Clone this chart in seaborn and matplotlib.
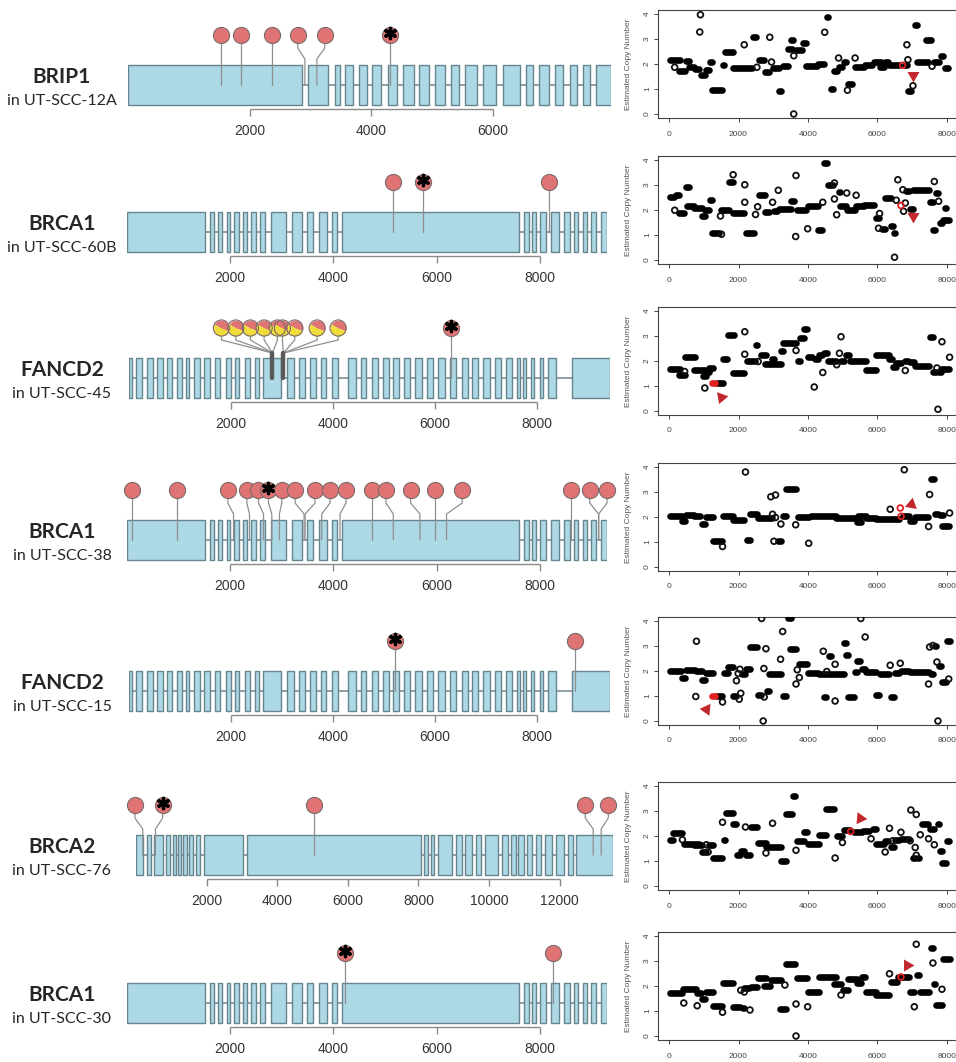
import numpy as np
import matplotlib.pyplot as plt
import seaborn as sns
from matplotlib.path import Path

# ── Style ──────────────────────────────────────────────────
sns.set_style('white')
plt.rcParams['font.family'] = ['Liberation Sans', 'DejaVu Sans']

W, H = 956, 1062
HEAD = '#E07474'
HEAD_EDGE = '#7d6a6a'
YELLOW = '#F0DC3A'
EXON_FILL = '#ADD8E6'
EXON_EDGE = '#66858f'
ARROW_RED = '#C1272D'

# ── Exon structures (start, end in bp) ─────────────────────
BRIP1_EXONS = [(0, 2863), (2961, 3288), (3400, 3485), (3577, 3708), (3793, 3924),
               (4022, 4165), (4270, 4427), (4532, 4708), (4793, 4950), (5048, 5212),
               (5310, 5447), (5539, 5741), (5840, 6049), (6167, 6455), (6546, 6657),
               (6769, 6932), (7017, 7161), (7272, 7390), (7488, 7606), (7704, 7946)]
BRCA1_EXONS = [(0, 1503), (1600, 1677), (1761, 1838), (1935, 1999), (2083, 2161),
               (2245, 2322), (2406, 2496), (2580, 2677), (2786, 3083), (3193, 3386),
               (3483, 3612), (3715, 3883), (3980, 4077), (4173, 7598), (7688, 7785),
               (7856, 7934), (8011, 8127), (8224, 8372), (8462, 8579), (8656, 8740),
               (8837, 8914), (8998, 9095), (9178, 9301)]
FANCD2_EXONS = [(0, 65), (144, 262), (353, 471), (549, 667), (746, 850), (942, 1033),
                (1112, 1177), (1275, 1386), (1465, 1583), (1681, 1792), (1897, 1995),
                (2073, 2158), (2269, 2367), (2466, 2551), (2629, 2989), (3100, 3231),
                (3335, 3447), (3545, 3662), (3761, 3872), (3983, 4101), (4297, 4460),
                (4545, 4656), (4755, 4885), (4983, 5101), (5180, 5297), (5389, 5507),
                (5605, 5736), (5847, 5964), (6063, 6193), (6291, 6409), (6520, 6638),
                (6730, 6847), (6945, 7076), (7174, 7292), (7390, 7501), (7599, 7665),
                (7717, 7783), (7874, 7946), (8057, 8123), (8221, 8371), (8679, 9431)]
BRCA2_EXONS = [(0, 192), (304, 417), (507, 755), (845, 958), (1037, 1127), (1184, 1262),
               (1341, 1431), (1510, 1623), (1702, 1803), (1916, 3032), (3145, 8058),
               (8171, 8272), (8351, 8441), (8543, 8948), (9061, 9230), (9331, 9511),
               (9624, 9782), (9894, 10244), (10379, 10526), (10627, 10751), (10830, 10976),
               (11077, 11224), (11336, 11483), (11596, 11776), (11889, 12114),
               (12227, 12385), (12475, 13510)]

# ── Mutations: lollipop head position, stem position (bp) ──
MUT_12A_HEAD = [1537, 1864, 2361, 2793, 3237, 4303]
MUT_12A_POS = [1537, 1864, 2361, 2910, 3107, 4303]
MUT_12A_STAR = [5]

MUT_60B_HEAD = [5147, 5741, 8172]
MUT_60B_POS = [5147, 5741, 8172]
MUT_60B_STAR = [1]

MUT_45_HEAD = [6311]
MUT_45_POS = [6311]
MUT_45_STAR = [0]
PIE_45_HEAD = [1812, 2093, 2381, 2649, 2910, 3008, 3250, 3689, 4101]
PIE_45_POS = [2812, 2812, 2812, 2812, 2812, 3028, 3028, 3028, 3028]

MUT_38_HEAD = [97, 968, 1954, 2322, 2548, 2741, 2999, 3257, 3644, 3935, 4244,
               4741, 5018, 5495, 5966, 6495, 8611, 8966, 9301]
MUT_38_POS = [97, 968, 2064, 2374, 2645, 2806, 2954, 3431, 3451, 3773, 4128,
              4741, 5160, 5676, 5966, 6192, 8611, 9140, 9140]
MUT_38_STAR = [5]

MUT_15_HEAD = [5206, 8747]
MUT_15_POS = [5206, 8747]
MUT_15_STAR = [0]

MUT_76_HEAD = [-30, 755, 5038, 12724, 13377]
MUT_76_POS = [192, 552, 5038, 12949, 13175]
MUT_76_STAR = [1]

MUT_30_HEAD = [4230, 8257]
MUT_30_POS = [4230, 8257]
MUT_30_STAR = [0]

# ── Copy number: segments (start, end, cn) and single points ──
CN_12A_SEG = [(0, 360, 2.17), (260, 480, 1.72), (450, 615, 2.13), (550, 740, 1.90), (710, 900, 1.81),
              (885, 1060, 1.55), (1030, 1170, 1.77), (1145, 1270, 2.08), (1200, 1560, 0.95),
              (1510, 1605, 1.97), (1575, 1865, 2.47), (1800, 2420, 1.84), (2375, 2540, 3.07),
              (2565, 2760, 2.15), (2730, 2905, 1.68), (2970, 3190, 1.84), (3145, 3240, 0.91),
              (3240, 3460, 1.93), (3385, 3560, 2.60), (3480, 3600, 2.97), (3625, 3865, 2.57),
              (3815, 3960, 2.84), (3915, 4300, 1.91), (4250, 4490, 2.01), (4520, 4605, 3.87),
              (4635, 4750, 1.00), (4730, 4875, 1.73), (4875, 5000, 1.87), (5020, 5135, 2.10),
              (5135, 5310, 1.20), (5335, 5645, 1.87), (5615, 5885, 1.95), (5865, 6125, 2.10),
              (6030, 6220, 1.88), (6175, 6320, 2.10), (6290, 6655, 1.95), (6750, 6875, 1.95),
              (6845, 6990, 0.93), (7060, 7180, 3.57), (7115, 7470, 2.10), (7375, 7570, 2.97),
              (7595, 7810, 2.07), (7790, 7905, 2.31), (7905, 8050, 1.84)]
CN_12A_PTS = [(163, 1.87), (904, 3.97), (885, 3.28), (2165, 2.77), (2530, 1.87), (2900, 3.07),
              (2950, 2.08), (3590, 2.33), (3590, 0.0), (4480, 3.27), (4880, 2.24), (5135, 0.95),
              (5355, 2.24), (6846, 2.77), (6875, 2.17), (7020, 1.13), (7570, 1.91)]
CN_12A_RED = [(6720, 1.95)]
CN_12A_RED_SEG = []
CN_12A_ARROW = (7020, 1.57, 180)

CN_60B_SEG = [(0, 165, 2.51), (165, 310, 2.62), (260, 450, 1.89), (450, 615, 2.94), (500, 740, 2.15),
              (690, 980, 2.09), (905, 1060, 1.76), (1000, 1190, 1.99), (1155, 1270, 2.42),
              (1200, 1480, 1.10), (1480, 1770, 2.02), (1700, 1865, 3.12), (1800, 2180, 1.89),
              (2180, 2490, 1.10), (2550, 2790, 2.59), (2730, 2905, 1.91), (3000, 3145, 1.98),
              (3145, 3530, 2.06), (3480, 3625, 2.35), (3655, 3960, 2.02), (3960, 4325, 2.18),
              (4270, 4425, 1.20), (4440, 4585, 3.87), (4540, 4750, 3.01), (4855, 4940, 2.71),
              (4905, 5135, 2.18), (5095, 5385, 1.99), (5355, 5645, 2.15), (5595, 5930, 2.22),
              (5930, 6060, 1.69), (6095, 6250, 1.25), (6175, 6415, 2.48), (6365, 6480, 1.36),
              (6440, 6540, 1.10), (6800, 6940, 2.75), (6895, 7060, 2.05), (6990, 7520, 2.81),
              (7470, 7635, 2.34), (7570, 7690, 1.20), (7665, 7760, 2.68), (7760, 7885, 1.47),
              (7855, 7980, 1.62), (7905, 8000, 2.09), (7950, 8095, 1.62)]
CN_60B_PTS = [(165, 1.99), (1510, 1.03), (1480, 1.76), (1845, 3.41), (2180, 3.01), (2180, 2.31),
              (2490, 1.82), (2550, 2.13), (2980, 2.31), (3145, 2.79), (3645, 0.94), (3655, 3.38),
              (3990, 1.25), (4425, 2.31), (4760, 3.08), (4760, 2.44), (4825, 1.81), (5115, 2.68),
              (5385, 2.59), (6060, 1.86), (6030, 1.27), (6490, 0.11), (6540, 2.39), (6585, 3.21),
              (6730, 2.81), (6750, 1.95), (6800, 2.28), (7635, 3.14), (7760, 2.35)]
CN_60B_RED = [(6675, 2.18)]
CN_60B_RED_SEG = []
CN_60B_ARROW = (7020, 1.76, 180)

CN_45_SEG = [(0, 356, 1.68), (260, 480, 1.45), (425, 770, 2.18), (690, 1075, 1.65), (960, 1095, 1.41),
             (1075, 1170, 1.58), (1125, 1290, 1.72), (1345, 1575, 1.12), (1510, 1700, 2.07),
             (1655, 1895, 3.04), (1825, 2180, 1.54), (2210, 2500, 2.02), (2470, 2565, 2.64),
             (2615, 2810, 2.24), (2730, 2980, 1.89), (2920, 3050, 2.07), (3000, 3240, 1.89),
             (3190, 3310, 2.42), (3240, 3675, 2.73), (3675, 3790, 2.01), (3750, 3915, 2.94),
             (3865, 4010, 3.30), (3960, 4155, 2.15), (4175, 4325, 2.07), (4300, 4440, 2.24),
             (4425, 4590, 2.34), (4540, 4825, 2.02), (4925, 5070, 2.02), (5065, 5210, 2.24),
             (5165, 5690, 2.02), (5645, 5980, 1.65), (5930, 6365, 2.24), (6315, 6460, 2.07),
             (6410, 6575, 1.78), (6510, 6700, 1.94), (6750, 6920, 2.01), (6895, 7085, 1.98),
             (7040, 7520, 1.81), (7470, 7635, 2.97), (7570, 7710, 1.58), (7730, 7855, 1.58),
             (7810, 8095, 1.68)]
CN_45_PTS = [(450, 1.58), (1030, 0.92), (2180, 2.27), (2180, 3.17), (2565, 1.98), (3655, 2.42),
             (4180, 0.96), (4425, 1.54), (4825, 1.85), (4905, 2.31), (4950, 2.97), (6800, 1.62),
             (7710, 1.72), (7740, 0.07), (7855, 2.77), (8075, 2.15)]
CN_45_RED = []
CN_45_RED_SEG = [(1220, 1345, 1.12)]
CN_45_ARROW = (1510, 0.57, 40)

CN_38_SEG = [(0, 400, 2.05), (355, 500, 1.85), (450, 740, 2.09), (690, 930, 2.05), (930, 1075, 1.74),
             (1030, 1290, 2.01), (1250, 1560, 1.06), (1510, 1865, 2.05), (1825, 2180, 1.90),
             (2210, 2375, 1.08), (2310, 2565, 2.14), (2540, 3000, 1.95), (3095, 3240, 1.03),
             (3240, 3385, 2.05), (3335, 3675, 3.14), (3675, 4060, 2.01), (4060, 4825, 2.05),
             (4780, 5450, 1.95), (5385, 5550, 1.81), (5405, 5690, 2.05), (5645, 5980, 1.95),
             (5930, 6320, 1.94), (6320, 6655, 1.91), (6700, 6940, 2.05), (6895, 7085, 1.85),
             (7060, 7470, 2.02), (7500, 7665, 3.54), (7615, 7760, 2.11), (7760, 7905, 2.07),
             (7825, 8095, 1.65)]
CN_38_PTS = [(1540, 0.82), (2200, 3.80), (2930, 2.81), (3065, 2.88), (2980, 2.11), (3065, 1.98),
             (3020, 1.03), (3220, 1.72), (3645, 1.69), (4020, 0.95), (6365, 2.31), (6770, 3.89),
             (7470, 1.62), (7500, 2.90), (8075, 2.16)]
CN_38_RED = [(6655, 2.36), (6680, 2.03)]
CN_38_RED_SEG = []
CN_38_ARROW = (6970, 2.53, 110)

CN_15_SEG = [(0, 385, 2.01), (355, 500, 1.74), (450, 770, 2.05), (740, 980, 2.01), (905, 1075, 1.65),
             (1030, 1290, 1.91), (1345, 1560, 1.00), (1540, 1730, 1.94), (1655, 1865, 2.16),
             (1800, 1960, 1.00), (2060, 2210, 1.90), (2180, 2375, 2.10), (2310, 2565, 2.95),
             (2520, 2690, 1.05), (2790, 2905, 1.22), (2855, 3240, 1.88), (3240, 3385, 1.02),
             (3385, 3530, 4.14), (3460, 3675, 2.89), (3720, 4010, 2.30), (3960, 4325, 1.94),
             (4300, 4590, 1.88), (4440, 4540, 0.96), (4560, 4685, 2.60), (4585, 5065, 1.88),
             (5000, 5135, 3.12), (5065, 5190, 2.66), (5135, 5355, 0.96), (5310, 5450, 1.98),
             (5385, 5520, 2.40), (5520, 5675, 2.10), (5645, 5980, 1.98), (5930, 6075, 1.05),
             (6030, 6365, 1.88), (6345, 6510, 0.96), (6460, 6655, 1.94), (6655, 6940, 2.01),
             (6895, 7520, 1.98), (7500, 7635, 1.90), (7615, 7710, 3.02), (7740, 7855, 2.20),
             (7825, 8000, 1.57), (7980, 8115, 3.19)]
CN_15_PTS = [(770, 0.98), (790, 3.19), (1540, 0.76), (1940, 1.61), (2020, 0.87), (2040, 2.07),
             (1990, 1.90), (2065, 1.11), (2665, 4.10), (2710, 0.0), (2730, 2.10), (2740, 0.96),
             (2790, 2.89), (3210, 2.47), (3270, 3.58), (3655, 1.48), (3690, 2.05), (3750, 1.74),
             (4440, 2.79), (4540, 1.98), (4780, 2.27), (4780, 0.80), (5520, 4.10), (5645, 3.36),
             (6365, 2.23), (6655, 2.31), (7470, 1.48), (7500, 2.96), (7595, 3.02), (7710, 2.36),
             (7740, 0.0), (8050, 1.68)]
CN_15_RED = []
CN_15_RED_SEG = [(1220, 1345, 1.00)]
CN_15_ARROW = (1075, 0.50, -35)

CN_76_SEG = [(0, 135, 1.85), (95, 405, 2.11), (405, 885, 1.69), (690, 980, 1.65), (930, 1095, 1.36),
             (1125, 1290, 1.65), (1250, 1560, 1.12), (1540, 1655, 1.85), (1605, 1865, 2.94),
             (1825, 1960, 2.48), (1925, 2060, 1.25), (2040, 2180, 1.41), (2180, 2375, 1.25),
             (2330, 2565, 2.36), (2520, 2810, 1.72), (2760, 3240, 1.58), (3190, 3405, 1.02),
             (3335, 3560, 2.90), (3530, 3655, 3.60), (3655, 3915, 1.82), (3865, 4010, 2.15),
             (3960, 4345, 1.69), (4300, 4540, 2.05), (4490, 4780, 3.10), (4810, 5000, 2.02),
             (5000, 5230, 2.24), (5290, 5595, 2.15), (5550, 5790, 2.22), (5835, 5980, 2.27),
             (5930, 6220, 1.68), (6175, 6345, 1.81), (6345, 6510, 1.58), (6480, 6655, 1.85),
             (6655, 6940, 1.89), (6990, 7115, 1.12), (7135, 7230, 1.12), (7250, 7470, 2.47),
             (7470, 7665, 2.28), (7725, 7810, 2.48), (7760, 7885, 1.41), (7825, 8000, 0.92),
             (7980, 8095, 1.81)]
CN_76_PTS = [(385, 1.85), (1075, 1.65), (1125, 1.36), (1540, 2.55), (2200, 2.36), (2790, 1.32),
             (2980, 2.51), (3655, 1.43), (4780, 1.12), (4990, 1.74), (5815, 1.89), (6220, 1.36),
             (6345, 2.31), (6440, 1.81), (6675, 2.15), (6940, 1.81), (6960, 3.04), (7115, 2.86),
             (7085, 1.54), (7115, 1.23), (7230, 2.05), (7470, 1.89), (7635, 1.65)]
CN_76_RED = [(5230, 2.18)]
CN_76_RED_SEG = []
CN_76_ARROW = (5500, 2.71, 145)

CN_30_SEG = [(0, 405, 1.74), (385, 810, 1.87), (770, 960, 1.74), (930, 1075, 1.50), (1030, 1290, 1.78),
             (1250, 1560, 1.21), (1510, 1865, 2.13), (1825, 2085, 1.17), (2085, 2180, 1.14),
             (2135, 2330, 1.91), (2330, 2565, 1.96), (2520, 2810, 2.33), (2710, 2950, 2.00),
             (2905, 3240, 2.26), (3175, 3385, 1.08), (3335, 3655, 2.88), (3655, 4010, 2.33),
             (3980, 4345, 1.76), (4300, 4825, 2.37), (4730, 4970, 2.07), (4970, 5190, 1.83),
             (5115, 5450, 2.30), (5385, 5550, 2.13), (5520, 5675, 2.36), (5645, 5980, 1.76),
             (5930, 6365, 1.64), (6345, 6605, 2.16), (6560, 6940, 2.36), (6895, 7085, 1.76),
             (7115, 7210, 2.43), (7180, 7520, 1.76), (7500, 7635, 3.54), (7595, 7690, 2.09),
             (7665, 7885, 1.25), (7855, 8115, 3.09)]
CN_30_PTS = [(425, 1.32), (810, 1.21), (1540, 0.95), (2065, 1.83), (2165, 1.76), (2330, 1.04),
             (3335, 2.04), (3655, 1.28), (3655, 0.0), (3990, 1.17), (4950, 1.64), (6345, 2.49),
             (7060, 1.17), (7115, 3.67), (7595, 2.92), (7855, 1.87)]
CN_30_RED = [(6675, 2.36)]
CN_30_RED_SEG = []
CN_30_ARROW = (6845, 2.86, 150)

fig = plt.figure(figsize=(W / 100, H / 100), dpi=100)


def gene_panel(top, x0, x1, exons, ticks, heads, pos, star, name, sample,
               pie_heads=(), pie_pos=()):
    length = exons[-1][1]
    ax = fig.add_axes([x0 / W, 1 - (top + 150) / H, (x1 - x0) / W, 150 / H])
    ax.set_xlim(0, length)
    ax.set_ylim(150, 0)
    ax.axis('off')

    # intron backbone + exon boxes
    ax.hlines(82, 0, length, color='#7d8f96', lw=1.2, zorder=1)
    ax.broken_barh([(s, e - s) for s, e in exons], (62, 40),
                   facecolors=EXON_FILL, edgecolors=EXON_EDGE, lw=1.0, zorder=2)

    # stems
    for h, p in zip(heads, pos):
        if h == p:
            ax.plot([h, h], [32, 82], color='#8f8f8f', lw=0.9, zorder=3, clip_on=False)
        else:
            ax.plot([h, h, p, p], [32, 45, 56, 82], color='#8f8f8f', lw=0.9,
                    zorder=3, clip_on=False)
    for h, p in zip(pie_heads, pie_pos):
        ax.plot([h, h, p], [32, 44, 57], color='#8f8f8f', lw=0.9, zorder=3)
    for p in sorted(set(pie_pos)):
        ax.plot([p, p], [57, 82], color='#5a5a5a', lw=3.2, zorder=3)

    # heads
    sns.scatterplot(x=heads, y=[32] * len(heads), s=135, color=HEAD, edgecolor=HEAD_EDGE,
                    linewidth=0.8, zorder=5, clip_on=False, legend=False, ax=ax)
    for h in pie_heads:
        ax.scatter(h, 32, s=135, marker=Path.wedge(-20, 150), color=HEAD, lw=0, zorder=5)
        ax.scatter(h, 32, s=135, marker=Path.wedge(150, 340), color=YELLOW, lw=0, zorder=5)
        ax.scatter(h, 32, s=135, marker='o', facecolor='none', edgecolor=HEAD_EDGE,
                   lw=0.8, zorder=6)
    ax.scatter([heads[i] for i in star], [30] * len(star), marker=(6, 2, 0), s=55,
               color='black', linewidths=2.4, zorder=7, clip_on=False)

    # position scale
    ax.hlines(106, ticks[0], ticks[-1], color='#8a8a8a', lw=1.0)
    ax.vlines(ticks, 106, 113, color='#8a8a8a', lw=1.0)
    for t in ticks:
        ax.text(t, 128, str(t), ha='center', va='center', fontsize=10, color='#333333')

    fig.text(62 / W, 1 - (top + 74) / H, name, ha='center', va='center',
             fontsize=15, fontweight='bold', family=['Lato', 'DejaVu Sans'])
    fig.text(62 / W, 1 - (top + 98) / H, sample, ha='center', va='center',
             fontsize=11.5, family=['Lato', 'DejaVu Sans'])


def cn_panel(top, segs, pts, red_pts, red_segs, arrow):
    ax = fig.add_axes([658 / W, 1 - (top + 108) / H, 308 / W, 108 / H])
    ax.set_xlim(-317, 8547)
    ax.set_ylim(-0.16, 4.16)
    cap = 30  # part of the round cap width, in bp

    s0, s1, sy = zip(*segs)
    ax.hlines(sy, np.array(s0) + cap, np.maximum(np.array(s1) - cap, np.array(s0) + cap),
              color='black', lw=4.8, capstyle='round', zorder=3)
    px, py = zip(*pts)
    sns.scatterplot(x=list(px), y=list(py), s=17, marker='o', facecolor='none',
                    edgecolor='#111111', linewidth=1.3, zorder=3, legend=False, ax=ax)
    if red_segs:
        r0, r1, ry = zip(*red_segs)
        ax.hlines(ry, np.array(r0) + cap, np.array(r1) - cap, color='#E02020',
                  lw=4.8, capstyle='round', zorder=4)
    if red_pts:
        rx, ry = zip(*red_pts)
        ax.scatter(rx, ry, s=17, marker='o', facecolor='none', edgecolor='#E02020',
                   linewidth=1.3, zorder=4)
    ax.scatter(arrow[0], arrow[1], marker=(3, 0, arrow[2]), s=100, color=ARROW_RED,
               lw=0, zorder=5)

    ax.set_xticks([0, 2000, 4000, 6000, 8000])
    ax.set_yticks([0, 1, 2, 3, 4])
    ax.tick_params(bottom=True, left=True, length=3, width=0.7, labelsize=6,
                   colors='#444444', direction='out', pad=2)
    ax.tick_params(axis='x', pad=6)
    ax.tick_params(axis='y', labelrotation=90)
    for sp in ax.spines.values():
        sp.set_color('#444444')
        sp.set_linewidth(0.8)
    ax.set_ylabel('Estimated Copy Number', fontsize=6, color='#555555')
    ax.yaxis.set_label_coords(-0.085, 0.5)


# ── Left: gene diagrams ────────────────────────────────────
gene_panel(3, 128, 611, BRIP1_EXONS, [2000, 4000, 6000], MUT_12A_HEAD, MUT_12A_POS,
           MUT_12A_STAR, 'BRIP1', 'in UT-SCC-12A')
gene_panel(150, 127, 607, BRCA1_EXONS, [2000, 4000, 6000, 8000], MUT_60B_HEAD, MUT_60B_POS,
           MUT_60B_STAR, 'BRCA1', 'in UT-SCC-60B')
gene_panel(296, 129, 610, FANCD2_EXONS, [2000, 4000, 6000, 8000], MUT_45_HEAD, MUT_45_POS,
           MUT_45_STAR, 'FANCD2', 'in UT-SCC-45', PIE_45_HEAD, PIE_45_POS)
gene_panel(458, 127, 607, BRCA1_EXONS, [2000, 4000, 6000, 8000], MUT_38_HEAD, MUT_38_POS,
           MUT_38_STAR, 'BRCA1', 'in UT-SCC-38')
gene_panel(609, 129, 610, FANCD2_EXONS, [2000, 4000, 6000, 8000], MUT_15_HEAD, MUT_15_POS,
           MUT_15_STAR, 'FANCD2', 'in UT-SCC-15')
gene_panel(773, 136, 613, BRCA2_EXONS, [2000, 4000, 6000, 8000, 10000, 12000], MUT_76_HEAD,
           MUT_76_POS, MUT_76_STAR, 'BRCA2', 'in UT-SCC-76')
gene_panel(921, 127, 607, BRCA1_EXONS, [2000, 4000, 6000, 8000], MUT_30_HEAD, MUT_30_POS,
           MUT_30_STAR, 'BRCA1', 'in UT-SCC-30')

# ── Right: copy number plots ───────────────────────────────
cn_panel(10, CN_12A_SEG, CN_12A_PTS, CN_12A_RED, CN_12A_RED_SEG, CN_12A_ARROW)
cn_panel(156, CN_60B_SEG, CN_60B_PTS, CN_60B_RED, CN_60B_RED_SEG, CN_60B_ARROW)
cn_panel(307, CN_45_SEG, CN_45_PTS, CN_45_RED, CN_45_RED_SEG, CN_45_ARROW)
cn_panel(463, CN_38_SEG, CN_38_PTS, CN_38_RED, CN_38_RED_SEG, CN_38_ARROW)
cn_panel(617, CN_15_SEG, CN_15_PTS, CN_15_RED, CN_15_RED_SEG, CN_15_ARROW)
cn_panel(782, CN_76_SEG, CN_76_PTS, CN_76_RED, CN_76_RED_SEG, CN_76_ARROW)
cn_panel(932, CN_30_SEG, CN_30_PTS, CN_30_RED, CN_30_RED_SEG, CN_30_ARROW)

fig.savefig('out.png', dpi=100, facecolor='white')
